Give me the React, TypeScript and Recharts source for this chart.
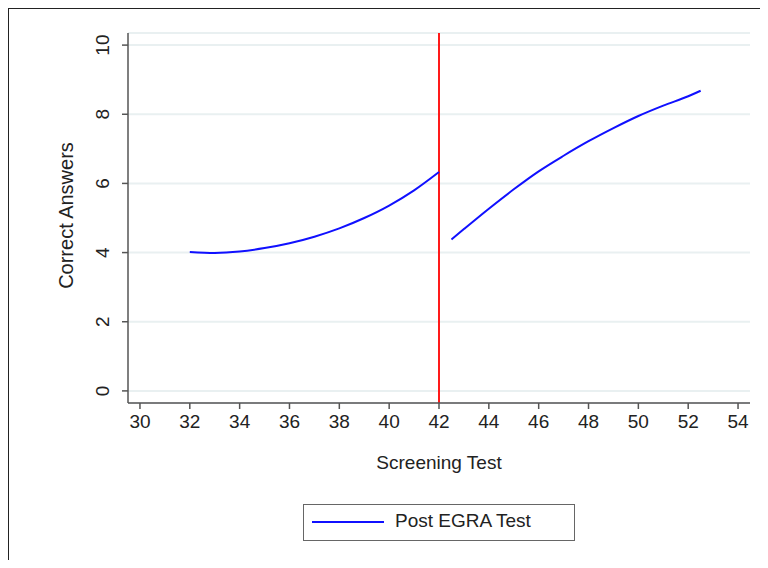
import React from 'react';
import { LineChart, Line, XAxis, YAxis, CartesianGrid, ReferenceLine } from 'recharts';

// fitted curve, below cutoff
const leftX = [32, 33, 34, 35, 36, 37, 38, 39, 40, 41, 42];
const leftY = [4.02, 3.99, 4.03, 4.13, 4.27, 4.46, 4.7, 5.0, 5.36, 5.8, 6.33];
// fitted curve, above cutoff
const rightX = [42.5, 43, 44, 45, 46, 47, 48, 49, 50, 51, 52, 52.5];
const rightY = [4.38, 4.68, 5.27, 5.83, 6.35, 6.8, 7.22, 7.6, 7.95, 8.25, 8.52, 8.68];

const xTicks = [30, 32, 34, 36, 38, 40, 42, 44, 46, 48, 50, 52, 54];
const yTicks = [0, 2, 4, 6, 8, 10];
const cutoff = 42;

const FONT = '"Liberation Sans", Arial, sans-serif';

const leftRows = leftX.map((x, i) => ({ x, y: leftY[i] }));
const rightRows = rightX.map((x, i) => ({ x, y: rightY[i] }));

function YTick(props: any) {
  const { x, y, payload } = props;
  const tx = x - 11;
  return (
    <text x={tx} y={y} transform={`rotate(-90, ${tx}, ${y})`} textAnchor="middle"
      fill="#222" fontSize={19} fontFamily={FONT}>{payload.value}</text>
  );
}

function XTick(props: any) {
  const { x, y, payload } = props;
  return (
    <text x={x} y={y + 17} textAnchor="middle" fill="#222" fontSize={19} fontFamily={FONT}>{payload.value}</text>
  );
}

export default function App() {
  return (
    <div style={{ position: 'relative', width: 768, height: 568, margin: -8, overflow: 'hidden', background: '#fff', fontFamily: FONT }}>
      <div style={{ position: 'absolute', left: 7, top: 7, width: 900, height: 700, border: '2px solid #222', boxSizing: 'border-box' }} />
      <div style={{ position: 'absolute', left: 0, top: 0 }}>
        <LineChart width={768} height={568} margin={{ top: 33, right: 18, bottom: 135, left: 68 }}>
          <CartesianGrid horizontal vertical={false} stroke="#e9f0f1" strokeWidth={2} />
          <XAxis type="number" dataKey="x" domain={[29.52, 54.48]} ticks={xTicks} allowDataOverflow
            height={30} stroke="#555" strokeWidth={1.5} tickSize={6} tick={<XTick />} />
          <YAxis type="number" dataKey="y" domain={[-0.35, 10.35]} ticks={yTicks} allowDataOverflow
            width={60} stroke="#555" strokeWidth={1.5} tickSize={6} tick={<YTick />} />
          <ReferenceLine x={cutoff} stroke="#ff1a1a" strokeWidth={2} ifOverflow="extendDomain" />
          <Line data={leftRows} dataKey="y" type="monotone" stroke="#1010ff" strokeWidth={2} dot={false} isAnimationActive={false} />
          <Line data={rightRows} dataKey="y" type="monotone" stroke="#1010ff" strokeWidth={2} dot={false} isAnimationActive={false} />
        </LineChart>
      </div>
      <div style={{ position: 'absolute', left: 339, top: 452, width: 200, textAlign: 'center', fontSize: 19, color: '#222' }}>Screening Test</div>
      <div style={{ position: 'absolute', left: 66, top: 216, width: 220, marginLeft: -110, marginTop: -12, textAlign: 'center', fontSize: 20, color: '#222', transform: 'rotate(-90deg)' }}>Correct Answers</div>
      <div style={{ position: 'absolute', left: 303, top: 504, width: 272, height: 37, border: '1px solid #666', boxSizing: 'border-box' }}>
        <div style={{ position: 'absolute', left: 8, top: 16, width: 72, height: 2, background: '#1010ff' }} />
        <div style={{ position: 'absolute', left: 91, top: 5, fontSize: 19, color: '#222', whiteSpace: 'nowrap' }}>Post EGRA Test</div>
      </div>
    </div>
  );
}
